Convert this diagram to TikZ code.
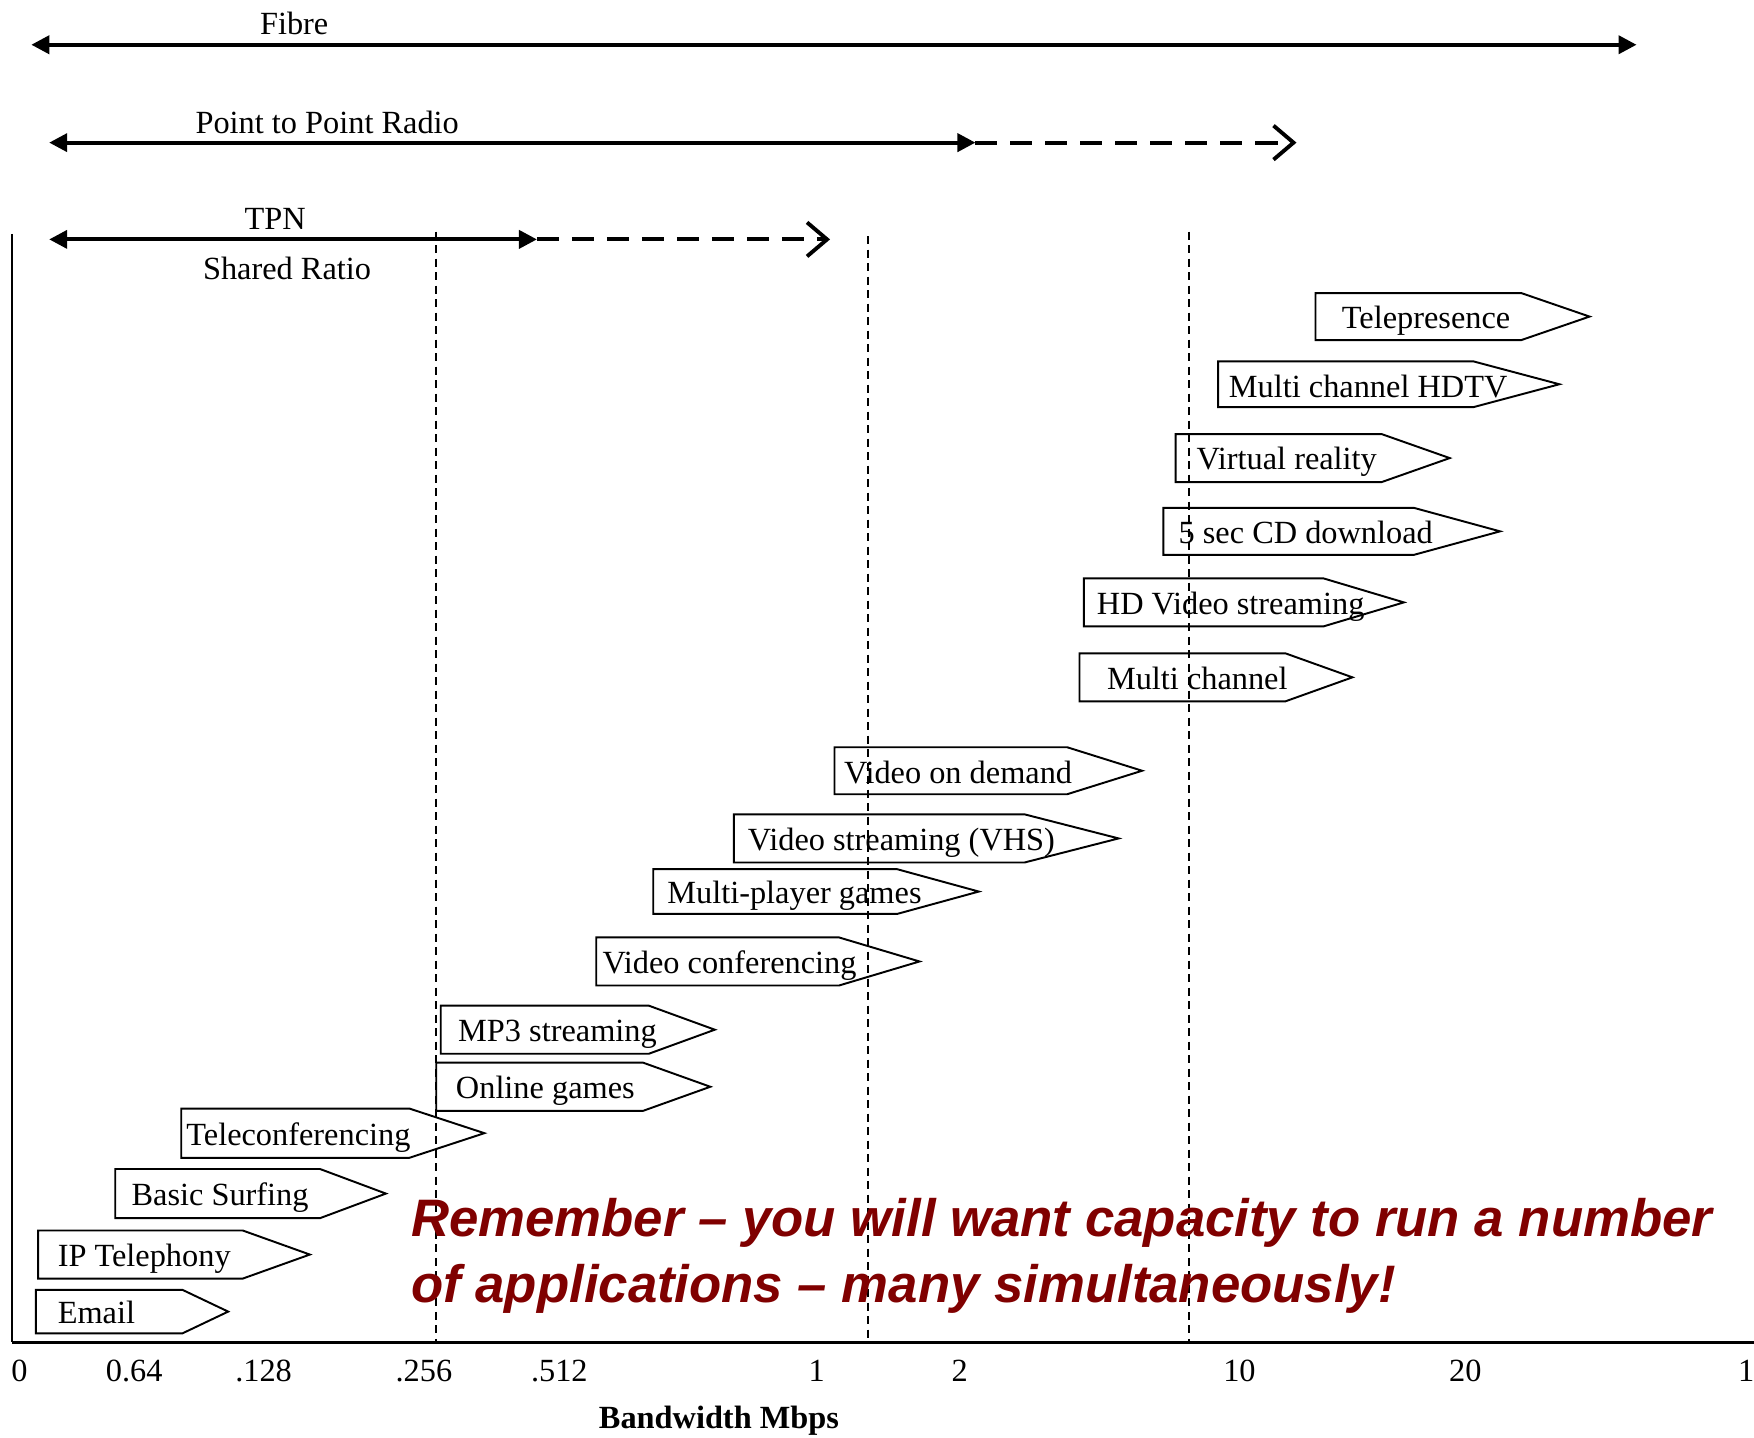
\documentclass[tikz,border=0pt]{standalone}
\usepackage{fontspec}
\setmainfont{Liberation Serif}
\newfontfamily\remfont{Liberation Sans}
\usetikzlibrary{arrows.meta}
\definecolor{remred}{RGB}{128,0,0}

\begin{document}
\begin{tikzpicture}[x=0.011186cm,y=-0.011186cm]

\tikzset{app/.style = {draw, line width=0.55pt}}
\tikzset{apptext/.style = {anchor=base west, inner sep=0pt, font=\fontsize{9.2}{11}\selectfont}}
\tikzset{lbl/.style = {anchor=base, inner sep=0pt, font=\fontsize{9.2}{11}\selectfont}}
\tikzset{link/.style = {line width=1.1pt, {Triangle[length=1.8mm,width=1.8mm]}-{Triangle[length=1.8mm,width=1.8mm]}}}
\tikzset{maybe/.style = {line width=1.1pt, dash pattern=on 2.2mm off 1.3mm, -{Straight Barb[length=2mm,width=3.4mm]}}}
\tikzset{limit/.style = {line width=0.6pt, dash pattern=on 0.8mm off 0.55mm}}
\tikzset{remark/.style = {anchor=base west, inner sep=0pt, text=remred, font=\remfont\bfseries\itshape\fontsize{15}{18}\selectfont}}

\useasboundingbox (0,0) rectangle (1568,1285);

% end points
\coordinate (fibreL) at (28,40);
\coordinate (fibreR) at (1463,40);
\coordinate (radioL) at (44,127.5);
\coordinate (radioM) at (872,127.5);
\coordinate (radioR) at (1159,127.5);
\coordinate (tpnL) at (44,214);
\coordinate (tpnM) at (480,214);
\coordinate (tpnR) at (742,214);
\coordinate (origin) at (11,1200);
\coordinate (ytop) at (11,209);
\coordinate (xend) at (1568,1200);
\coordinate (aTop) at (390,207);
\coordinate (aBot) at (390,1200);
\coordinate (bTop) at (776,211);
\coordinate (bBot) at (776,1200);
\coordinate (cTop) at (1063,207);
\coordinate (cBot) at (1063,1200);

% access ranges
\draw[link] (fibreL) to (fibreR);
\draw[link] (radioL) to (radioM);
\draw[maybe] (radioM) to (radioR);
\draw[link] (tpnL) to (tpnM);
\draw[maybe] (tpnM) to (tpnR);

\node[lbl] (fibre) at (263,31) {Fibre};
\node[lbl] (radio) at (292.5,119) {Point to Point Radio};
\node[lbl] (tpn) at (246,205.6) {TPN};
\node[lbl] (shared) at (256.6,250) {Shared Ratio};

% axes
\draw[line width=0.6pt] (ytop) -- (origin);
\draw[line width=0.7pt] (origin) -- (xend);

% limits
\draw[limit] (aTop) -- (aBot);
\draw[limit] (bTop) -- (bBot);
\draw[limit] (cTop) -- (cBot);

% applications
\draw[app] (1176,262) -- (1360,262) -- (1421,283) -- (1360,304) -- (1176,304) -- cycle;
\node[apptext] (tele) at (1199,294) {Telepresence};
\draw[app] (1089,323) -- (1317,323) -- (1394,343.5) -- (1317,364) -- (1089,364) -- cycle;
\node[apptext] (hdtv) at (1098,355) {Multi channel HDTV};
\draw[app] (1051,388) -- (1235,388) -- (1296,409.5) -- (1235,431) -- (1051,431) -- cycle;
\node[apptext] (vr) at (1069,420) {Virtual reality};
\draw[app] (1040,454) -- (1264,454) -- (1341,475) -- (1264,496) -- (1040,496) -- cycle;
\node[apptext] (cd) at (1053,486) {5 sec CD download};
\draw[app] (969,517) -- (1183,517) -- (1255,538.5) -- (1183,560) -- (969,560) -- cycle;
\node[apptext] (hdvid) at (980,549) {HD Video streaming};
\draw[app] (965,584) -- (1149,584) -- (1209,605.5) -- (1149,627) -- (965,627) -- cycle;
\node[apptext] (multi) at (989,616) {Multi channel};
\draw[app] (746,668) -- (954,668) -- (1021,689) -- (954,710) -- (746,710) -- cycle;
\node[apptext] (vod) at (754,700) {Video on demand};
\draw[app] (656,728) -- (916,728) -- (1000,749.5) -- (916,771) -- (656,771) -- cycle;
\node[apptext] (vhs) at (668,760) {Video streaming (VHS)};
\draw[app] (584,777) -- (802,777) -- (875,797) -- (802,817) -- (584,817) -- cycle;
\node[apptext] (games) at (596,808) {Multi-player games};
\draw[app] (533,838) -- (750,838) -- (822,859.5) -- (750,881) -- (533,881) -- cycle;
\node[apptext] (vconf) at (538,870) {Video conferencing};
\draw[app] (394,899) -- (580,899) -- (639,920.5) -- (580,942) -- (394,942) -- cycle;
\node[apptext] (mp3) at (409,931) {MP3 streaming};
\draw[app] (390,950) -- (575,950) -- (635,971.5) -- (575,993) -- (390,993) -- cycle;
\node[apptext] (online) at (407,982) {Online games};
\draw[app] (162,991) -- (366,991) -- (433,1013) -- (366,1035) -- (162,1035) -- cycle;
\node[apptext] (telecon) at (166,1024) {Teleconferencing};
\draw[app] (103,1045) -- (286,1045) -- (345,1067) -- (286,1089) -- (103,1089) -- cycle;
\node[apptext] (surf) at (117,1078) {Basic Surfing};
\draw[app] (34,1100) -- (217,1100) -- (277,1121.5) -- (217,1143) -- (34,1143) -- cycle;
\node[apptext] (voip) at (51,1132) {IP Telephony};
\draw[app] (32,1153) -- (163,1153) -- (204,1172.5) -- (163,1192) -- (32,1192) -- cycle;
\node[apptext] (email) at (51,1183) {Email};

% remark
\node[remark] (rem1) at (367,1105) {Remember \textendash{} you will want capacity to run a number};
\node[remark] (rem2) at (367,1164) {of applications \textendash{} many simultaneously!};

% scale
\node[lbl] (t0) at (17.4,1235) {0};
\node[lbl] (t064) at (120,1235) {0.64};
\node[lbl] (t128) at (235.6,1235) {.128};
\node[lbl] (t256) at (379,1235) {.256};
\node[lbl] (t512) at (500,1235) {.512};
\node[lbl] (tone) at (730,1235) {1};
\node[lbl] (ttwo) at (858,1235) {2};
\node[lbl] (tten) at (1108,1235) {10};
\node[lbl] (ttwenty) at (1310,1235) {20};
\node[lbl] (tlast) at (1561,1235) {1};
\node[lbl,font=\fontsize{9.2}{11}\selectfont\bfseries] (unit) at (642.7,1277) {Bandwidth Mbps};

\end{tikzpicture}
\end{document}
